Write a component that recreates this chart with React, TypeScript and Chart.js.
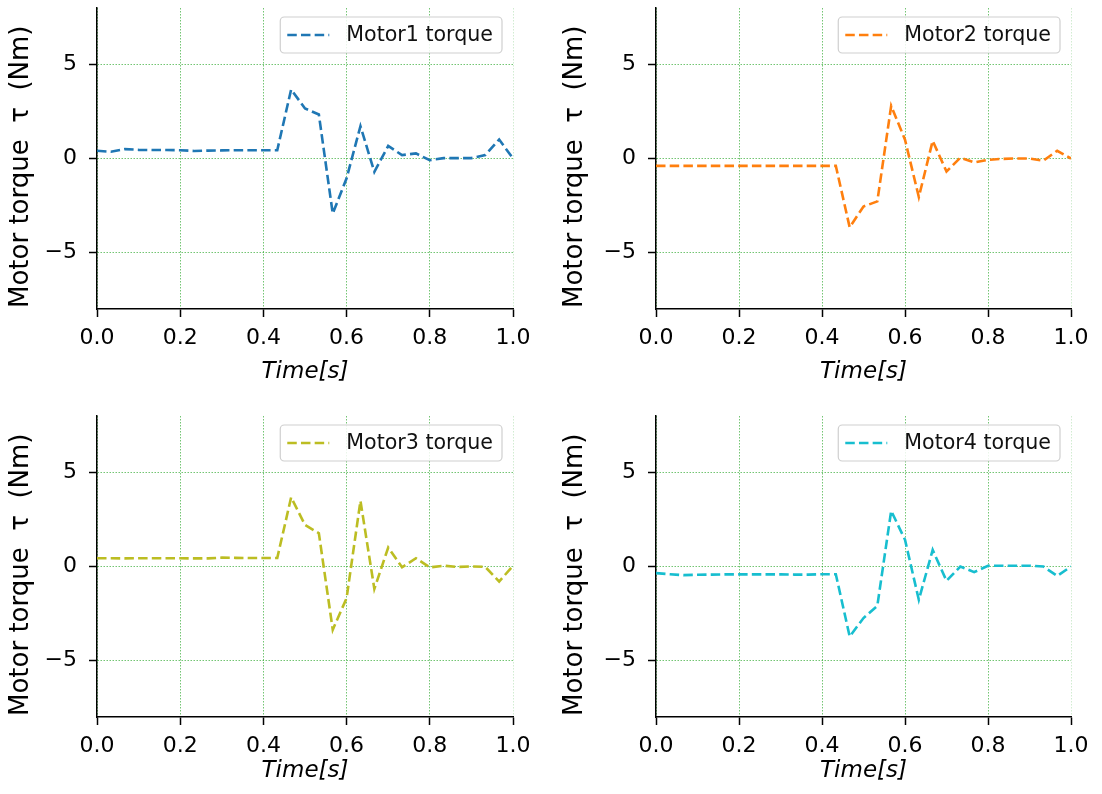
import React, { useEffect, useRef } from "react";
import { Chart, registerables } from "chart.js";

Chart.register(...registerables);

const TIME = [
  0, 0.0333, 0.0667, 0.1, 0.1333, 0.1667, 0.2, 0.2333, 0.2667, 0.3, 0.3333,
  0.3667, 0.4, 0.4333, 0.4667, 0.5, 0.5333, 0.5667, 0.6, 0.6333, 0.6667, 0.7,
  0.7333, 0.7667, 0.8, 0.8333, 0.8667, 0.9, 0.9333, 0.9667, 1.0,
];

const MOTOR1 = [
  0.41, 0.36, 0.5, 0.46, 0.45, 0.45, 0.44, 0.4, 0.42, 0.43, 0.44, 0.44, 0.44,
  0.44, 3.67, 2.66, 2.34, -2.93, -1.05, 1.72, -0.71, 0.67, 0.18, 0.27, -0.09,
  0.02, 0.02, 0.02, 0.18, 1.01, 0.0,
];

const MOTOR2 = [
  -0.39, -0.39, -0.39, -0.39, -0.39, -0.39, -0.39, -0.39, -0.39, -0.39, -0.39,
  -0.39, -0.39, -0.39, -3.66, -2.55, -2.28, 2.8, 1.0, -2.05, 0.94, -0.69, 0.04,
  -0.21, -0.07, -0.02, 0.0, 0.0, -0.12, 0.41, 0.0,
];

const MOTOR3 = [
  0.44, 0.44, 0.43, 0.44, 0.44, 0.44, 0.44, 0.43, 0.43, 0.47, 0.46, 0.45, 0.45,
  0.45, 3.68, 2.21, 1.77, -3.36, -1.68, 3.49, -1.19, 1.01, -0.04, 0.44, -0.05,
  0.04, -0.02, 0.0, -0.02, -0.8, 0.04,
];

const MOTOR4 = [
  -0.35, -0.41, -0.46, -0.44, -0.43, -0.42, -0.42, -0.42, -0.42, -0.42, -0.43,
  -0.43, -0.41, -0.41, -3.72, -2.74, -2.09, 2.96, 1.42, -1.77, 0.88, -0.76, 0.0,
  -0.3, 0.04, 0.04, 0.04, 0.04, 0.0, -0.5, 0.0,
];

const SERIES = [MOTOR1, MOTOR2, MOTOR3, MOTOR4];
const LABELS = ["Motor1 torque", "Motor2 torque", "Motor3 torque", "Motor4 torque"];
const COLORS = ["#1f77b4", "#ff7f0e", "#bcbd22", "#17becf"];
const X_TICKS = [0, 0.2, 0.4, 0.6, 0.8, 1.0];
const Y_TICKS = [-5, 0, 5];
const X_TITLE = "Time[s]";
const Y_TITLE = "Motor torque  \u03c4  (Nm)  ";

const FAMILY = "'DejaVu Sans', 'Liberation Sans', sans-serif";

const legendBox = {
  id: "legendBox",
  afterDatasetsDraw(chart: any) {
    const ds = chart.data.datasets[0];
    const { ctx, chartArea } = chart;
    ctx.save();
    ctx.font = `20.6px ${FAMILY}`;
    const tw = ctx.measureText(ds.label).width;
    const h = 36;
    const w = 7 + 42 + 17 + tw + 9;
    const x = chartArea.right - 11 - w;
    const y = chartArea.top + 9;
    ctx.beginPath();
    if (ctx.roundRect) ctx.roundRect(x, y, w, h, 4);
    else ctx.rect(x, y, w, h);
    ctx.fillStyle = "rgba(255,255,255,0.85)";
    ctx.fill();
    ctx.strokeStyle = "#cfcfcf";
    ctx.lineWidth = 1.2;
    ctx.stroke();
    ctx.beginPath();
    ctx.setLineDash(ds.borderDash);
    ctx.strokeStyle = ds.borderColor;
    ctx.lineWidth = ds.borderWidth;
    ctx.moveTo(x + 7, y + h / 2);
    ctx.lineTo(x + 49, y + h / 2);
    ctx.stroke();
    ctx.setLineDash([]);
    ctx.fillStyle = "#111";
    ctx.textBaseline = "middle";
    ctx.textAlign = "left";
    ctx.fillText(ds.label, x + 66, y + h / 2 + 1);
    ctx.restore();
  },
};

type PanelProps = {
  idx: number;
  left: number;
  top: number;
  yWidth: number;
  rightPad: number;
  topPad: number;
  xHeight: number;
  xTitlePad: number;
  yTitlePad: number;
};

const W = 551;
const H = 397;

const zeroPad = (s: any) => {
  s.paddingTop = 0;
  s.paddingBottom = 0;
  s.paddingLeft = 0;
  s.paddingRight = 0;
};

function Panel(p: PanelProps) {
  const ref = useRef<HTMLCanvasElement | null>(null);
  useEffect(() => {
    if (!ref.current) return;
    const gridColor = (c: any) =>
      c.tick && c.tick.value === 1 ? "rgba(0,150,0,0.18)" : "rgba(0,150,0,0.55)";
    const chart = new Chart(ref.current, {
      type: "line",
      data: {
        datasets: [
          {
            label: LABELS[p.idx],
            data: TIME.map((t, i) => ({ x: t, y: SERIES[p.idx][i] })),
            borderColor: COLORS[p.idx],
            backgroundColor: COLORS[p.idx],
            borderWidth: 2.6,
            borderDash: [9.5, 4.2],
            pointRadius: 0,
            tension: 0,
            fill: false,
          },
        ],
      },
      options: {
        responsive: false,
        animation: false,
        layout: { padding: { left: 0, top: p.topPad, right: p.rightPad, bottom: 0 } },
        plugins: { legend: { display: false }, tooltip: { enabled: false } },
        scales: {
          x: {
            type: "linear",
            min: 0,
            max: 1,
            afterFit: (s: any) => {
              s.height = p.xHeight;
              zeroPad(s);
            },
            afterBuildTicks: (s: any) => {
              s.ticks = X_TICKS.map((v) => ({ value: v }));
            },
            ticks: {
              autoSkip: false,
              maxRotation: 0,
              padding: 8,
              color: "#000",
              font: { family: FAMILY, size: 22 },
              callback: (v: any) => Number(v).toFixed(1),
            },
            grid: {
              color: gridColor,
              lineWidth: 1,
              tickColor: "#000",
              tickLength: 8,
              tickWidth: 1.5,
              tickBorderDash: [],
            },
            border: { display: true, color: "#000", width: 1.5, dash: [1.5, 1.5] },
            title: {
              display: true,
              text: X_TITLE,
              color: "#000",
              font: { family: FAMILY, size: 23, style: "italic" },
              padding: { top: 0, bottom: p.xTitlePad },
            },
          },
          y: {
            type: "linear",
            min: -8,
            max: 8,
            afterFit: (s: any) => {
              s.width = p.yWidth;
              zeroPad(s);
            },
            afterBuildTicks: (s: any) => {
              s.ticks = Y_TICKS.map((v) => ({ value: v }));
            },
            ticks: {
              padding: 12,
              color: "#000",
              font: { family: FAMILY, size: 22 },
              callback: (v: any) => (v < 0 ? "\u2212" + Math.abs(v) : String(v)),
            },
            grid: {
              color: "rgba(0,150,0,0.55)",
              lineWidth: 1,
              tickColor: "#000",
              tickLength: 8,
              tickWidth: 1.5,
              tickBorderDash: [],
            },
            border: { display: true, color: "#000", width: 1.5, dash: [1.5, 1.5] },
            title: {
              display: true,
              text: Y_TITLE,
              color: "#000",
              font: { family: FAMILY, size: 26 },
              padding: { top: p.yTitlePad, bottom: 0 },
            },
          },
        },
      },
      plugins: [legendBox],
    } as any);
    return () => chart.destroy();
  }, []);
  return (
    <div style={{ position: "absolute", left: p.left, top: p.top, width: W, height: H }}>
      <canvas ref={ref} width={W} height={H} style={{ width: W, height: H }} />
    </div>
  );
}

export default function App() {
  return (
    <div
      style={{
        position: "absolute",
        left: 0,
        top: 0,
        width: 1102,
        height: 794,
        background: "#fff",
        overflow: "hidden",
      }}
    >
      <Panel idx={0} left={0} top={0} yWidth={97} rightPad={38} topPad={8} xHeight={88} xTitlePad={11} yTitlePad={6} />
      <Panel idx={1} left={551} top={0} yWidth={105} rightPad={31} topPad={8} xHeight={88} xTitlePad={11} yTitlePad={9} />
      <Panel idx={2} left={0} top={397} yWidth={97} rightPad={38} topPad={19} xHeight={77} xTitlePad={9} yTitlePad={6} />
      <Panel idx={3} left={551} top={397} yWidth={105} rightPad={31} topPad={19} xHeight={77} xTitlePad={9} yTitlePad={9} />
    </div>
  );
}
